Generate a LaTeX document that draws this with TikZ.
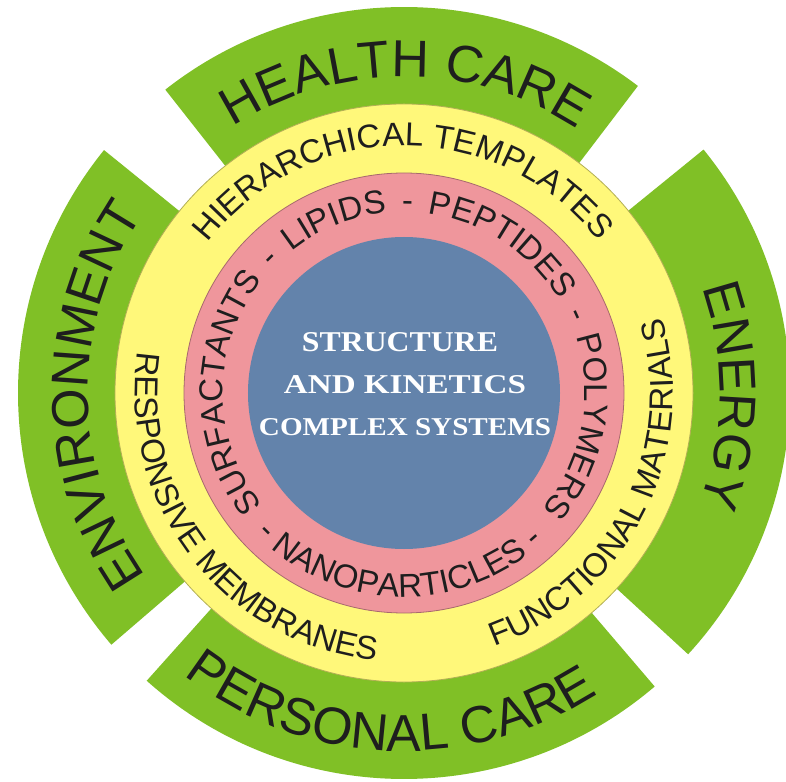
\documentclass[tikz,border=0pt]{standalone}
\usepackage{fontspec}
\setmainfont{Liberation Sans}
\newfontfamily\hubfont{Liberation Serif}
\usetikzlibrary{decorations.text}
\definecolor{leaf}{HTML}{80C026}
\definecolor{lemon}{HTML}{FFF87A}
\definecolor{rose}{HTML}{EF969C}
\definecolor{slate}{HTML}{6383AB}
\definecolor{ink}{HTML}{1E1E1E}
\newcommand\greenfont{\fontsize{52pt}{60pt}\selectfont}
\newcommand\bandfont{\fontsize{33pt}{40pt}\selectfont}
% text running clockwise (tops outward), centred on an angle
\newcommand\ringcw[4]{%
  \path[decorate, decoration={text along path, text align=center,
        text color=ink, text={|#3|#4}}]
    ({#2+85}:#1) arc[start angle={#2+85}, end angle={#2-85}, radius=#1];}
% text running counter-clockwise (tops inward), centred on an angle
\newcommand\ringccw[4]{%
  \path[decorate, decoration={text along path, text align=center,
        text color=ink, text={|#3|#4}}]
    ({#2-85}:#1) arc[start angle={#2-85}, end angle={#2+85}, radius=#1];}
\tikzset{
  sector/.style={fill=leaf},
  band/.style={fill=#1, draw=#1!70!black, line width=0.8pt},
  hub/.style={anchor=base, text=white, font=\hubfont\bfseries, inner sep=0pt}
}

\begin{document}
\begin{tikzpicture}
  \useasboundingbox[fill=white] (-404pt,-388pt) rectangle (382pt,393pt);
  % four green application sectors
  \foreach \a/\b in {52.7/128.2, 141/220.7, 228.2/310.5, -42.6/39.1}
    \fill[sector] (0,0) -- (\a:386pt) arc[start angle=\a, end angle=\b, radius=386pt] -- cycle;
  % rings
  \filldraw[band=lemon] (0,0) circle[radius=289pt];
  \filldraw[band=rose] (0,0) circle[radius=220pt];
  \fill[slate] (0,0) circle[radius=156pt];

  % outer labels
  \ringcw{316pt}{89.7}{\greenfont}{HEALTH CARE}
  \ringcw{316pt}{180.5}{\greenfont}{ENVIRONMENT}
  \ringcw{316pt}{-0.5}{\greenfont}{ENERGY}
  \ringccw{358pt}{267.5}{\greenfont}{PERSONAL CARE}

  % yellow band
  \ringcw{247pt}{90.3}{\bandfont}{HIERARCHICAL TEMPLATES}
  \ringccw{269pt}{217.7}{\bandfont}{RESPONSIVE MEMBRANES}
  \ringccw{269pt}{-27}{\bandfont}{FUNCTIONAL MATERIALS}

  % pink band
  \path[decorate, decoration={text along path, text align={fit to path stretching spaces},
        text color=ink, text={|\bandfont|SURFACTANTS - LIPIDS - PEPTIDES - POLYMERS}}]
    (218.5:181pt) arc[start angle=218.5, end angle=-40, radius=181pt];
  \ringccw{204pt}{268.5}{\bandfont}{- NANOPARTICLES -}

  % centre
  \node[hub] (line1) at (-4pt,41pt) {\resizebox{196pt}{19pt}{STRUCTURE}};
  \node[hub] (line2) at (1pt,0pt) {\resizebox{242pt}{18pt}{AND KINETICS}};
  \node[hub] (line3) at (1pt,-42pt) {\resizebox{292pt}{17pt}{COMPLEX SYSTEMS}};
\end{tikzpicture}
\end{document}
